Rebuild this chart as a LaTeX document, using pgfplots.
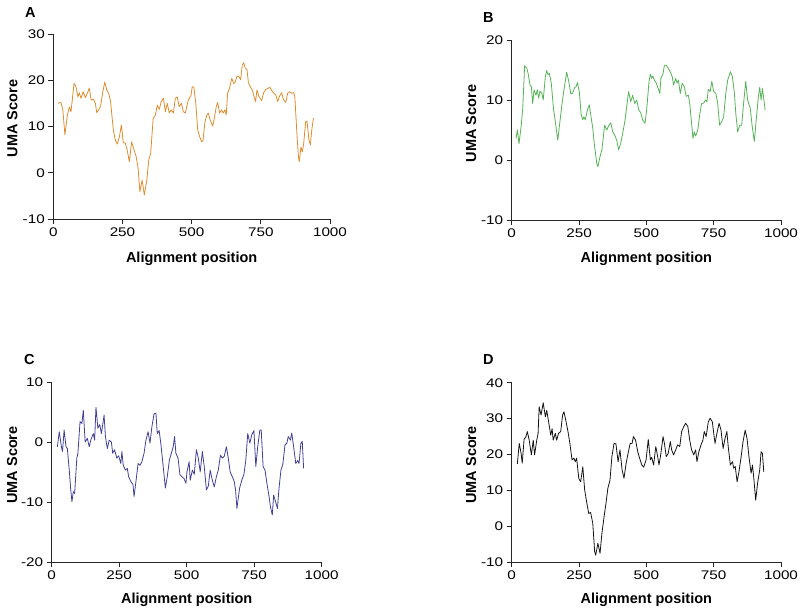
\documentclass[border=0pt]{standalone}
\usepackage{fontspec}
\setmainfont{Liberation Sans}
\newfontfamily\tickfam[FakeStretch=1.22]{Liberation Sans}
\usepackage{pgfplots}
\pgfplotsset{compat=1.18}

\definecolor{cA}{RGB}{222,140,45}
\definecolor{cB}{RGB}{86,178,86}
\definecolor{cC}{RGB}{64,64,150}
\definecolor{cD}{RGB}{20,20,20}

\newcommand{\tickfont}{\tickfam\fontsize{12.5}{14}\selectfont}
\newcommand{\labfont}{\fontsize{14.5}{17}\selectfont\bfseries}

\pgfplotsset{
  prism/.style={
    scale only axis,
    axis x line*=bottom, axis y line*=left,
    axis line style={black!85, line width=0.8pt, -},
    tick style={black!85, line width=0.8pt},
    tick align=outside, major tick length=5pt,
    xmin=0, xmax=1000, xtick={0,250,500,750,1000},
    ticklabel style={font=\tickfont},
    /pgf/number format/assume math mode=true,
    /pgf/number format/1000 sep={},
    label style={font=\labfont},
    xlabel={Alignment position}, ylabel={UMA Score},
    every axis plot/.append style={line width=0.8pt, line join=round},
  },
}

\begin{document}
\begin{tikzpicture}
\path[use as bounding box] (0,0) rectangle (800pt,612pt);

% A
\begin{axis}[prism, at={(53.3pt,393pt)}, anchor=south west,
  width=276.7pt, height=185pt,
  ymin=-10, ymax=30, ytick={-10,0,10,20,30},
  xlabel style={at={(axis description cs:0.5,-0.235)}, anchor=base},
  ylabel style={at={(axis description cs:-0.148,0.543)}, anchor=center}]
\addplot[cA] coordinates {
(18,15.0)(27,15.2)(34,13.9)(42,8.2)(51,12.5)(58,14.2)(64,13.2)(75,19.3)(82,18.6)(89,16.4)
(94,17.3)(100,16.1)(108,17.5)(116,16.2)(123,17.2)(130,18.3)(137,15.7)(145,15.9)(152,15.0)(157,13.0)
(164,13.6)(171,14.4)(178,17.2)(186,19.6)(193,17.9)(200,17.2)(207,15.4)(217,9.2)(224,7.1)(231,6.2)
(239,7.8)(246,10.3)(253,6.5)(260,6.4)(267,4.9)(275,2.4)(283,6.7)(292,4.9)(299,3.6)(306,1.3)
(313,-4.1)(321,-1.6)(329,-4.8)(338,-1.6)(345,2.8)(352,4.2)(361,11.8)(368,12.3)(376,14.6)(383,13.7)
(390,15.4)(398,16.1)(405,13.2)(412,15.0)(419,12.9)(426,13.6)(434,12.9)(441,16.1)(448,16.4)(455,14.3)
(463,15.0)(470,13.2)(477,12.9)(488,15.7)(498,16.8)(502,18.6)(508,18.5)(515,15.0)(522,9.2)(529,7.8)
(536,6.7)(541,6.9)(548,11.0)(555,12.5)(560,12.9)(567,11.4)(576,10.1)(582,11.8)(589,14.3)(594,15.2)
(601,12.9)(608,13.6)(614,12.9)(620,13.6)(625,12.5)(630,17.2)(637,18.3)(645,20.4)(652,19.3)(656,19.4)
(664,20.9)(671,20.8)(677,20.1)(683,23.3)(688,23.8)(694,22.6)(700,22.3)(705,19.5)(712,18.6)(719,17.9)
(726,16.4)(731,15.4)(736,17.9)(743,16.5)(753,15.6)(760,17.3)(768,18.0)(775,18.2)(782,18.5)(790,17.7)
(797,17.2)(804,16.8)(811,15.4)(818,16.6)(825,17.3)(832,15.8)(840,15.2)(847,17.2)(854,17.5)(862,17.2)
(869,17.3)(873,16.4)(881,7.8)(886,3.5)(889,2.4)(895,5.6)(900,4.5)(905,6.4)(912,11.0)(917,11.1)
(924,7.1)(929,6.0)(934,9.2)(940,11.8)
};
\end{axis}

% B
\begin{axis}[prism, at={(511.7pt,392pt)}, anchor=south west,
  width=269.3pt, height=180pt,
  ymin=-10, ymax=20, ytick={-10,0,10,20},
  xlabel style={at={(axis description cs:0.5,-0.236)}, anchor=base},
  ylabel style={at={(axis description cs:-0.151,0.536)}, anchor=center}]
\addplot[cB] coordinates {
(16,3.6)(21,5.0)(27,2.7)(35,5.6)(41,8.6)(48,15.7)(56,15.3)(61,14.4)(68,12.5)(73,12.2)
(78,9.4)(83,11.7)(90,10.8)(95,11.7)(100,10.3)(105,11.5)(112,11.1)(117,10.0)(125,13.9)(130,14.9)
(135,14.2)(140,14.4)(147,12.8)(155,8.6)(162,6.4)(171,3.3)(179,6.4)(187,9.4)(194,11.7)(204,14.6)
(212,13.1)(219,11.1)(226,11.1)(234,12.1)(239,12.2)(244,12.9)(251,11.4)(258,7.5)(264,6.7)(268,7.2)
(273,6.7)(281,8.3)(288,9.2)(293,7.7)(301,5.3)(308,2.2)(316,-0.6)(320,-1.1)(328,0.6)(335,1.7)
(345,5.8)(353,5.0)(360,5.7)(368,6.2)(375,4.7)(382,4.2)(390,3.3)(397,1.7)(405,2.8)(412,4.4)
(420,6.4)(427,8.9)(434,11.4)(442,9.7)(449,10.8)(457,9.4)(464,10.0)(472,8.3)(479,7.9)(486,6.7)
(495,6.1)(501,8.3)(510,13.1)(515,14.3)(520,13.6)(524,14.0)(530,13.3)(537,12.8)(544,11.9)(550,11.1)
(554,13.6)(562,14.4)(567,15.8)(574,15.8)(581,15.3)(589,14.7)(596,13.9)(601,12.5)(609,13.6)(614,12.8)
(619,13.3)(626,11.1)(633,12.8)(641,12.2)(648,10.6)(656,10.8)(661,9.4)(668,6.1)(673,3.6)(678,4.7)
(683,4.0)(691,5.0)(698,7.5)(705,9.4)(713,9.5)(720,10.0)(725,9.7)(730,11.8)(737,11.4)(743,13.1)
(750,11.4)(758,11.1)(765,9.4)(772,5.8)(780,6.4)(787,7.2)(795,11.1)(802,13.3)(812,14.7)(819,14.0)
(827,11.1)(832,7.8)(839,4.7)(847,5.8)(854,5.8)(861,9.4)(869,13.1)(876,10.0)(886,8.6)(893,5.6)
(901,3.1)(908,6.7)(916,10.6)(921,12.1)(926,10.0)(931,11.9)(936,10.2)(941,8.3)
};
\end{axis}

% C
\begin{axis}[prism, at={(51.7pt,49.7pt)}, anchor=south west,
  width=270pt, height=179.6pt,
  ymin=-20, ymax=10, ytick={-20,-10,0,10},
  xlabel style={at={(axis description cs:0.5,-0.227)}, anchor=base},
  ylabel style={at={(axis description cs:-0.147,0.542)}, anchor=center}]
\addplot[cC] coordinates {
(21,-0.7)(28,1.8)(36,-0.7)(40,-1.5)(46,2.1)(53,-0.7)(58,-1.0)(65,-4.6)(70,-7.6)(75,-9.9)
(80,-8.2)(85,-8.5)(93,-2.6)(97,-1.8)(105,3.5)(112,3.2)(117,5.4)(124,0.1)(132,0.7)(139,-0.7)
(146,0.6)(154,1.5)(159,0.4)(164,5.9)(171,2.4)(178,3.0)(184,1.5)(189,3.0)(194,4.6)(199,1.0)
(206,-1.0)(213,0.4)(221,0.1)(226,-1.8)(233,-1.2)(241,-2.6)(248,-2.2)(256,-3.5)(260,-1.5)(265,-3.8)
(273,-4.6)(280,-4.3)(285,-5.7)(293,-6.5)(301,-7.0)(305,-9.0)(312,-6.5)(320,-3.5)(327,-3.8)(334,-3.2)
(342,-1.8)(349,0.4)(357,1.8)(364,-0.1)(371,2.6)(379,4.8)(386,4.9)(391,1.5)(398,2.0)(404,-0.1)
(413,-4.0)(421,-7.6)(428,-5.7)(436,-2.9)(443,-1.8)(450,-0.7)(455,1.0)(460,-1.8)(468,-2.6)(475,-5.4)
(482,-5.7)(490,-6.0)(497,-6.8)(501,-4.9)(509,-3.2)(513,-6.3)(521,-4.6)(528,-5.3)(536,-1.2)(543,-2.6)
(550,-4.9)(558,-1.5)(565,-4.0)(573,-7.9)(580,-7.3)(587,-4.6)(595,-6.3)(602,-7.4)(610,-5.7)(617,-4.6)
(625,-2.1)(632,-2.6)(639,-2.3)(647,-0.7)(654,-2.6)(661,-4.9)(669,-5.7)(676,-6.5)(681,-7.9)(686,-11.0)
(691,-9.3)(696,-7.6)(704,-6.3)(712,-5.3)(719,-2.9)(726,1.5)(734,-0.1)(741,1.3)(749,2.0)(756,-4.0)
(763,-0.7)(771,2.1)(776,2.1)(783,-4.0)(790,-4.6)(797,-6.8)(805,-9.0)(810,-10.7)(817,-12.1)(822,-8.8)
(830,-10.0)(836,-11.0)(842,-7.6)(849,-4.6)(856,-3.6)(864,-0.4)(871,-0.1)(876,1.0)(884,0.4)(889,1.6)
(896,-0.7)(904,-3.5)(911,-3.0)(916,-3.5)(923,-0.1)(928,0.2)(933,-4.3)
};
\end{axis}

% D
\begin{axis}[prism, at={(511.7pt,49.7pt)}, anchor=south west,
  width=269.3pt, height=179.6pt,
  ymin=-10, ymax=40, ytick={-10,0,10,20,30,40},
  xlabel style={at={(axis description cs:0.5,-0.227)}, anchor=base},
  ylabel style={at={(axis description cs:-0.151,0.542)}, anchor=center}]
\addplot[cD] coordinates {
(21,17.4)(28,23.1)(35,20.3)(39,17.6)(46,24.2)(53,25.0)(58,26.4)(65,24.0)(73,19.9)(80,24.0)
(85,19.9)(93,24.0)(98,25.9)(102,33.3)(109,31.0)(117,34.4)(125,30.5)(130,32.3)(137,29.1)(145,25.4)
(150,27.2)(154,24.0)(162,25.9)(167,24.0)(174,25.9)(182,26.4)(189,31.0)(194,31.9)(202,29.1)(209,26.4)
(216,23.1)(224,18.5)(231,19.0)(236,18.0)(241,19.0)(249,13.4)(256,12.4)(264,16.6)(271,10.1)(278,6.9)
(286,3.6)(293,3.9)(301,0.9)(308,-7.0)(312,-8.0)(320,-4.7)(328,-7.5)(335,-1.9)(343,2.7)(350,6.4)
(357,10.6)(365,12.9)(372,19.4)(380,23.1)(387,23.0)(395,18.0)(402,21.3)(410,15.7)(417,13.4)(425,17.6)
(432,20.3)(440,23.1)(447,23.1)(452,25.0)(460,24.0)(468,20.8)(475,19.0)(483,17.1)(490,16.5)(499,18.5)
(507,24.2)(515,18.5)(520,19.2)(527,17.1)(535,22.2)(540,20.3)(547,17.1)(554,20.3)(562,25.0)(567,23.1)
(574,19.4)(581,20.3)(589,23.6)(594,21.3)(601,19.9)(609,21.3)(616,22.7)(624,22.2)(631,26.4)(639,27.8)
(646,28.7)(654,27.8)(661,24.0)(668,21.3)(676,19.9)(683,21.3)(688,18.0)(695,20.8)(703,22.7)(710,24.0)
(715,26.4)(722,25.0)(730,29.1)(737,30.1)(745,29.1)(750,26.0)(755,23.1)(762,25.9)(770,28.7)(777,26.9)
(785,21.7)(792,24.4)(799,26.4)(804,22.2)(812,17.1)(820,18.0)(824,16.2)(830,16.7)(837,12.4)(844,15.3)
(852,19.4)(859,23.6)(867,26.8)(874,24.4)(881,19.4)(889,14.8)(894,17.1)(899,13.4)(906,7.3)(913,12.0)
(921,15.7)(926,20.8)(931,20.3)(936,15.2)
};
\end{axis}

\node[anchor=base west, font=\labfont, inner sep=0pt] at (25pt,594pt) {A};
\node[anchor=base west, font=\labfont, inner sep=0pt] at (483pt,589pt) {B};
\node[anchor=base west, font=\labfont, inner sep=0pt] at (24pt,247pt) {C};
\node[anchor=base west, font=\labfont, inner sep=0pt] at (483pt,247pt) {D};
\end{tikzpicture}
\end{document}
